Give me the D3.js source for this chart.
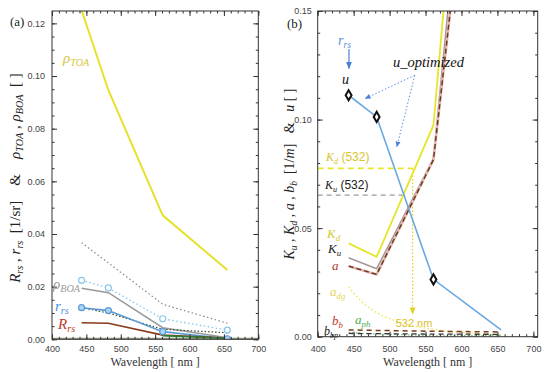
<!DOCTYPE html>
<html><head><meta charset="utf-8">
<script src="https://cdn.jsdelivr.net/npm/d3@7"></script>
<style>body{margin:0;background:#fff}svg{display:block}</style>
</head><body>
<svg id="c" width="550" height="372"></svg>
<script>
// ---------- DATA ----------
const wl = [443, 482, 561, 655];
// panel (a)
const rhoTOA = [0.125, 0.0946, 0.0471, 0.0263];
const rhoBOA = [0.0194, 0.0177, 0.0044, 0.0006];
const greyDotted = [0.0367, 0.029, 0.0133, 0.0061];
const cyanDotted = [0.0224, 0.0195, 0.0078, 0.0035];
const rrs = [0.012, 0.0109, 0.0029, 0.0002];
const darkDotted = [0.012, 0.0100, 0.0038, 0.0025];
const Rrs = [0.0063, 0.0061, 0.0016, 0.0005];
const greenRrs = [null, null, 0.0014, 0.0004];
// panel (b)
const u = [0.1112, 0.1012, 0.0264, 0.0031];
const Kd = [0.043, 0.0368, 0.0974, 0.451];
const Ku = [0.0364, 0.0313, 0.082, 0.40];
const aTot = [0.0325, 0.0287, 0.0815, 0.357];
const adgWl = [443, 460, 482, 505, 528, 552, 580, 610, 640, 655];
const adg = [0.023, 0.0165, 0.011, 0.0077, 0.0054, 0.0039, 0.0026, 0.0017, 0.0011, 0.0009];
const bb = [0.0031, 0.0029, 0.0025, 0.0022];
const bbp = [0.0015, 0.0014, 0.0012, 0.0011];
const aph = [0.0018, 0.0014, 0.0004, 0.0006];
const Kd532 = 0.0775, Ku532 = 0.0652, lambda532 = 532, Ku532End = 522;
const xTicks = [400, 450, 500, 550, 600, 650, 700];
const yTicksA = [0, 0.02, 0.04, 0.06, 0.08, 0.10, 0.12];
const yTicksB = [0, 0.05, 0.10, 0.15];

// ---------- SETUP ----------
const svg = d3.select("#c");
const SERIF = "'Liberation Serif','DejaVu Serif',serif";
const SANS = "'Liberation Sans','DejaVu Sans',sans-serif";

const defs = svg.append("defs");
function arrowMarker(id, color) {
  defs.append("marker").attr("id", id).attr("viewBox", "0 0 10 10")
    .attr("refX", 9).attr("refY", 5).attr("markerWidth", 6).attr("markerHeight", 6)
    .attr("orient", "auto").append("path").attr("d", "M0,1L10,5L0,9Z").attr("fill", color);
}
arrowMarker("arBlue", "#4a7fd8");
arrowMarker("arYel", "#e0d020");

function mathText(g, x, y, parts, opts) {
  const t = g.append("text").attr("x", x).attr("y", y)
    .attr("font-family", SERIF).attr("font-size", opts.size || 13)
    .attr("fill", opts.color || "#222").attr("xml:space", "preserve").style("white-space", "pre");
  if (opts.anchor) t.attr("text-anchor", opts.anchor);
  if (opts.transform) t.attr("transform", opts.transform);
  let shifted = 0;
  parts.forEach(p => {
    const s = t.append("tspan").text(p.t);
    if (p.i) s.attr("font-style", "italic");
    if (p.sans) s.attr("font-family", SANS);
    if (p.sub) {
      s.attr("font-size", (opts.size || 13) * 0.68).attr("dy", 3 - shifted);
      shifted = 3;
    } else if (shifted) {
      s.attr("dy", -shifted); shifted = 0;
    }
  });
  return t;
}

function panel(cfg) {
  const g = svg.append("g");
  const x = d3.scaleLinear().domain(cfg.xDomain).range([cfg.left, cfg.right]);
  const y = d3.scaleLinear().domain(cfg.yDomain).range([cfg.bottom, cfg.top]);
  const clipId = "clip" + cfg.id;
  defs.append("clipPath").attr("id", clipId).append("rect")
    .attr("x", cfg.left).attr("y", cfg.top)
    .attr("width", cfg.right - cfg.left).attr("height", cfg.bottom - cfg.top);
  const plot = g.append("g").attr("clip-path", `url(#${clipId})`);

  const minorX = d3.range(400, cfg.xDomain[1] + 0.1, 10);
  const minorY = d3.range(0, cfg.yDomain[1] + 1e-9, cfg.yMinor);
  const tickStyle = s => { s.select(".domain").remove(); s.selectAll("line").attr("stroke", "#333"); s.selectAll("text").attr("font-family", SANS).attr("font-size", 9).attr("fill", "#444"); };

  g.append("g").attr("transform", `translate(0,${cfg.bottom})`)
    .call(d3.axisBottom(x).tickValues(xTicks).tickSize(-5).tickSizeOuter(0).tickPadding(cfg.xPad).tickFormat(d3.format("d"))).call(tickStyle);
  g.append("g").attr("transform", `translate(0,${cfg.bottom})`)
    .call(d3.axisBottom(x).tickValues(minorX).tickSize(-2.5).tickSizeOuter(0).tickFormat("")).call(tickStyle);
  g.append("g").attr("transform", `translate(0,${cfg.top})`)
    .call(d3.axisTop(x).tickValues(xTicks).tickSize(-5).tickSizeOuter(0).tickFormat("")).call(tickStyle);
  g.append("g").attr("transform", `translate(0,${cfg.top})`)
    .call(d3.axisTop(x).tickValues(minorX).tickSize(-2.5).tickSizeOuter(0).tickFormat("")).call(tickStyle);
  g.append("g").attr("transform", `translate(${cfg.left},0)`)
    .call(d3.axisLeft(y).tickValues(cfg.yTicks).tickSize(-5).tickSizeOuter(0).tickPadding(cfg.yPad).tickFormat(d3.format(".2f"))).call(tickStyle);
  g.append("g").attr("transform", `translate(${cfg.left},0)`)
    .call(d3.axisLeft(y).tickValues(minorY).tickSize(-2.5).tickSizeOuter(0).tickFormat("")).call(tickStyle);
  g.append("g").attr("transform", `translate(${cfg.right},0)`)
    .call(d3.axisRight(y).tickValues(cfg.yTicks).tickSize(-5).tickSizeOuter(0).tickFormat("")).call(tickStyle);
  g.append("g").attr("transform", `translate(${cfg.right},0)`)
    .call(d3.axisRight(y).tickValues(minorY).tickSize(-2.5).tickSizeOuter(0).tickFormat("")).call(tickStyle);
  g.append("rect").attr("x", cfg.left).attr("y", cfg.top)
    .attr("width", cfg.right - cfg.left).attr("height", cfg.bottom - cfg.top)
    .attr("fill", "none").attr("stroke", "#333").attr("stroke-width", 1);

  g.append("text").attr("x", (cfg.left + cfg.right) / 2).attr("y", 366)
    .attr("text-anchor", "middle").attr("font-family", SERIF).attr("font-size", 12)
    .attr("fill", "#333").text("Wavelength [ nm ]");

  const line = (xs, ys, curve) => d3.line().defined((d, i) => ys[i] != null)
    .x((d, i) => x(xs[i])).y((d, i) => y(ys[i])).curve(curve || d3.curveLinear)(xs);
  const series = (xs, ys, color, w, dash, curve) => plot.append("path")
    .attr("d", line(xs, ys, curve)).attr("fill", "none").attr("stroke", color)
    .attr("stroke-width", w).attr("stroke-dasharray", dash || null);
  return { g, plot, x, y, series };
}

// ---------- PANEL (a) ----------
const A = panel({ id: "a", left: 52, right: 258.3, top: 11, bottom: 339.3,
  xDomain: [400, 700], yDomain: [0, 0.1247], yTicks: yTicksA, yMinor: 0.005, xPad: 6, yPad: 7 });
A.plot.append("line").attr("x1", A.x(400)).attr("x2", A.x(700)).attr("y1", A.y(0)).attr("y2", A.y(0))
  .attr("stroke", "#8e9c80").attr("stroke-width", 3);
A.series(wl, greyDotted, "#888", 1.2, "1.5,2.5");
A.series(wl, cyanDotted, "#86c6ea", 1.3, "1.5,2.5");
A.series(wl, rhoBOA, "#9a9a9a", 1.6);
A.series(wl, darkDotted, "#3a4a30", 1.2, "1.5,2");
A.series(wl, rrs, "#5b9bd5", 1.6);
A.series(wl, Rrs, "#8b3a1a", 1.6);
A.series(wl, greenRrs, "#2e7d32", 1.6);
A.series(wl, rhoTOA, "#e6e22c", 2);
A.plot.selectAll(".co").data(wl).join("circle").attr("cx", d => A.x(d)).attr("cy", (d, i) => A.y(cyanDotted[i]))
  .attr("r", 3).attr("fill", "white").attr("stroke", "#86c6ea").attr("stroke-width", 1.2);
A.plot.selectAll(".cr").data(wl).join("circle").attr("cx", d => A.x(d)).attr("cy", (d, i) => A.y(rrs[i]))
  .attr("r", 3).attr("fill", "#a9d6f2").attr("stroke", "#5b9bd5").attr("stroke-width", 1.2);

svg.append("text").attr("x", 10).attr("y", 26).attr("font-family", SERIF).attr("font-size", 13).attr("fill", "#222").text("(a)");
mathText(svg, 63, 63, [{ t: "ρ", i: 1 }, { t: "TOA", i: 1, sub: 1 }], { color: "#d6c837", size: 15 });
mathText(svg, 53, 289, [{ t: "ρ", i: 1 }, { t: "BOA", i: 1, sub: 1 }], { color: "#9a9a9a", size: 15 });
mathText(svg, 55, 311, [{ t: "r", i: 1 }, { t: "rs", i: 1, sub: 1 }], { color: "#4a90d9", size: 15 });
mathText(svg, 58, 329, [{ t: "R", i: 1 }, { t: "rs", i: 1, sub: 1 }], { color: "#c0392b", size: 15 });
mathText(svg, 0, 0, [{ t: "R", i: 1 }, { t: "rs", i: 1, sub: 1 }, { t: " , " }, { t: "r", i: 1 }, { t: "rs", i: 1, sub: 1 },
  { t: "  [1/sr]    &    " }, { t: "ρ", i: 1 }, { t: "TOA", i: 1, sub: 1 }, { t: " , " }, { t: "ρ", i: 1 }, { t: "BOA", i: 1, sub: 1 }, { t: "  [ ]" }],
  { anchor: "middle", size: 15, color: "#222", transform: "translate(20,178) rotate(-90)" });

// ---------- PANEL (b) ----------
const B = panel({ id: "b", left: 317.7, right: 537.7, top: 11, bottom: 336.7,
  xDomain: [400, 706], yDomain: [0, 0.15], yTicks: yTicksB, yMinor: 0.01, xPad: 9, yPad: 6 });
// reference lines at 532
B.plot.append("line").attr("x1", B.x(400)).attr("x2", B.x(lambda532)).attr("y1", B.y(Kd532)).attr("y2", B.y(Kd532))
  .attr("stroke", "#e8e62a").attr("stroke-width", 1.6).attr("stroke-dasharray", "6,4");
B.plot.append("line").attr("x1", B.x(400)).attr("x2", B.x(Ku532End)).attr("y1", B.y(Ku532)).attr("y2", B.y(Ku532))
  .attr("stroke", "#9a9a9a").attr("stroke-width", 1.2).attr("stroke-dasharray", "5,4");
B.plot.append("line").attr("x1", B.x(lambda532)).attr("x2", B.x(lambda532)).attr("y1", B.y(Kd532)).attr("y2", B.y(0.0105))
  .attr("stroke", "#e0d020").attr("stroke-width", 1.2).attr("stroke-dasharray", "1.5,2").attr("marker-end", "url(#arYel)");
// bottom lines
B.series(adgWl, adg, "#ece44a", 1.3, "1.5,2.5", d3.curveMonotoneX);
B.series(wl, aph, "#7cb87c", 1.2, "1.5,2");
B.series(wl, bbp, "#333", 1.3, "5,4");
B.series(wl, bb, "#7a3a18", 1.5, "5,4");
// K and a
B.series(wl, Ku, "#a89898", 1.6);
B.series(wl, aTot, "#e3b6b6", 2.6);
B.series(wl, aTot, "#6e3a16", 1.5, "5,3");
B.series(wl, Kd, "#e6e52a", 1.8);
// u
B.series(wl, u, "#6aa8e2", 1.6);
B.plot.selectAll(".ud").data(wl.slice(0, 3)).join("path")
  .attr("transform", (d, i) => `translate(${B.x(d)},${B.y(u[i])})`)
  .attr("d", d3.symbol(d3.symbolDiamond, 30)()).attr("fill", "white").attr("stroke", "#111").attr("stroke-width", 2);

// annotations
const uOptFrom = [535, 0.1204];
const uOptTo = [[466, 0.1097], [510, 0.0874]];
uOptTo.forEach(p => svg.append("line").attr("x1", B.x(uOptFrom[0])).attr("y1", B.y(uOptFrom[1]))
  .attr("x2", B.x(p[0])).attr("y2", B.y(p[1])).attr("stroke", "#5a8ee0").attr("stroke-width", 1)
  .attr("stroke-dasharray", "1.5,2").attr("marker-end", "url(#arBlue)"));
svg.append("line").attr("x1", B.x(443.5)).attr("x2", B.x(443.5)).attr("y1", B.y(0.1325)).attr("y2", B.y(0.1235))
  .attr("stroke", "#4a7fd8").attr("stroke-width", 1.2).attr("marker-end", "url(#arBlue)");

svg.append("text").attr("x", 287).attr("y", 28).attr("font-family", SERIF).attr("font-size", 13).attr("fill", "#222").text("(b)");
mathText(svg, 338, 45, [{ t: "r", i: 1 }, { t: "rs", i: 1, sub: 1 }], { color: "#5b8fd8", size: 14 });
mathText(svg, 342, 84, [{ t: "u", i: 1 }], { color: "#111", size: 14 });
mathText(svg, 393, 67, [{ t: "u_optimized", i: 1 }], { color: "#111", size: 14.5 });
mathText(svg, 326, 161, [{ t: "K", i: 1 }, { t: "d", i: 1, sub: 1 }, { t: " (532)", sans: 1 }], { color: "#d9c52f", size: 12 });
mathText(svg, 325, 189, [{ t: "K", i: 1 }, { t: "u", i: 1, sub: 1 }, { t: " (532)", sans: 1 }], { color: "#222", size: 12 });
mathText(svg, 327, 238, [{ t: "K", i: 1 }, { t: "d", i: 1, sub: 1 }], { color: "#d6cc30", size: 13 });
mathText(svg, 328, 253, [{ t: "K", i: 1 }, { t: "u", i: 1, sub: 1 }], { color: "#222", size: 13 });
mathText(svg, 332, 270, [{ t: "a", i: 1 }], { color: "#b03a2e", size: 13 });
mathText(svg, 330, 296, [{ t: "a", i: 1 }, { t: "dg", i: 1, sub: 1 }], { color: "#e2d45a", size: 13 });
mathText(svg, 332, 325, [{ t: "b", i: 1 }, { t: "b", i: 1, sub: 1 }], { color: "#c0392b", size: 13 });
mathText(svg, 355, 324, [{ t: "a", i: 1 }, { t: "ph", i: 1, sub: 1 }], { color: "#4caf50", size: 13 });
mathText(svg, 324, 335, [{ t: "b", i: 1 }, { t: "bp", i: 1, sub: 1 }], { color: "#222", size: 12 });
svg.append("text").attr("x", 414).attr("y", 327).attr("text-anchor", "middle").attr("font-family", SANS)
  .attr("font-size", 11).attr("fill", "#e0c030").text("532 nm");
mathText(svg, 0, 0, [{ t: "K", i: 1 }, { t: "u", i: 1, sub: 1 }, { t: " , " }, { t: "K", i: 1 }, { t: "d", i: 1, sub: 1 }, { t: " , " },
  { t: "a", i: 1 }, { t: " , " }, { t: "b", i: 1 }, { t: "b", i: 1, sub: 1 }, { t: "  [1/" }, { t: "m", i: 1 }, { t: "]   &   " }, { t: "u", i: 1 }, { t: " [ ]" }],
  { anchor: "middle", size: 14, color: "#222", transform: "translate(294,174) rotate(-90)" });
</script>
</body></html>
